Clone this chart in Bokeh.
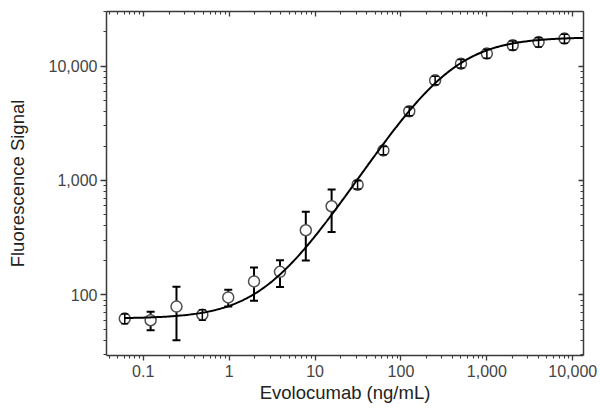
import numpy as np
from bokeh.plotting import figure
from bokeh.models import (ColumnDataSource, Whisker, TeeHead, LogAxis, FixedTicker,
                          CustomJSTickFormatter)
from bokeh.embed import file_html
from bokeh.resources import INLINE

# Evolocumab dilution series (ng/mL) and mean fluorescence signal with SD
concentration = [0.061, 0.122, 0.244, 0.488, 0.977, 1.95, 3.91, 7.81, 15.6,
                 31.3, 62.5, 125, 250, 500, 1000, 2000, 4000, 8000]
signal = [62, 60, 79, 67, 95, 131, 159, 367, 595,
          918, 1830, 4030, 7500, 10500, 12850, 15200, 16200, 17400]
sd = [6, 11, 39, 7, 16, 42, 42, 167, 240,
      75, 150, 350, 650, 900, 1150, 1400, 1500, 1600]

# four-parameter logistic fit of the dose-response
fit_bottom = 62.0
fit_top = 17900.0
fit_ec50 = 362.0
fit_hill = 1.17
fit_x_min, fit_x_max = 0.061, 13330.0

x_ticks = [0.1, 1, 10, 100, 1000, 10000]
y_ticks = [100, 1000, 10000]

x_range = (0.0374, 13330)
y_range = (29.5, 30000)

FONT = "Liberation Sans"
AXIS_COLOR = "#3a3a3a"
LABEL_COLOR = "#444444"
TITLE_COLOR = "#222222"


def minor_ticks(lo_exp, hi_exp):
    return [k * 10.0 ** e for e in range(lo_exp, hi_exp + 1) for k in range(2, 10)]


x_minor = minor_ticks(-2, 4)
y_minor = minor_ticks(1, 4)

fx = np.logspace(np.log10(fit_x_min), np.log10(fit_x_max), 400)
fy = fit_bottom + (fit_top - fit_bottom) / (1.0 + (fit_ec50 / fx) ** fit_hill)


def bar_source(keep):
    idx = [i for i in range(len(signal)) if keep(sd[i] / signal[i])]
    return ColumnDataSource(dict(
        x=[concentration[i] for i in idx],
        y=[signal[i] for i in idx],
        lo=[signal[i] - sd[i] for i in idx],
        hi=[signal[i] + sd[i] for i in idx],
    ))


src = bar_source(lambda r: True)
# wide bars run behind the symbol; narrow ones fit inside it and stay visible
wide = bar_source(lambda r: r >= 0.12)
narrow = bar_source(lambda r: r < 0.12)

p = figure(width=600, height=414, x_axis_type="log", y_axis_type="log",
           x_range=x_range, y_range=y_range,
           output_backend="svg", toolbar_location=None,
           min_border_left=106, min_border_right=17,
           min_border_top=11, min_border_bottom=59)
p.xgrid.visible = False
p.ygrid.visible = False
p.outline_line_color = None
p.background_fill_color = "white"
p.border_fill_color = "white"

xt = FixedTicker(ticks=x_ticks, minor_ticks=x_minor)
yt = FixedTicker(ticks=y_ticks, minor_ticks=y_minor)

for ax, tk in ((p.xaxis[0], xt), (p.yaxis[0], yt)):
    ax.ticker = tk
    ax.formatter = CustomJSTickFormatter(code="return tick.toLocaleString('en-US');")
    ax.axis_line_color = AXIS_COLOR
    ax.axis_line_width = 1.5
    ax.major_tick_line_color = AXIS_COLOR
    ax.major_tick_line_width = 1.3
    ax.minor_tick_line_color = AXIS_COLOR
    ax.minor_tick_line_width = 1.1
    ax.major_tick_in = 0
    ax.major_tick_out = 6
    ax.minor_tick_in = 0
    ax.minor_tick_out = 3
    ax.major_label_text_font = FONT
    ax.major_label_text_font_size = "16px"
    ax.major_label_text_color = LABEL_COLOR
    ax.axis_label_text_font = FONT
    ax.axis_label_text_font_size = "18.5px"
    ax.axis_label_text_font_style = "normal"
    ax.axis_label_text_color = TITLE_COLOR

p.xaxis[0].axis_label = "Evolocumab (ng/mL)"
p.yaxis[0].axis_label = "Fluorescence Signal"
p.xaxis[0].major_tick_out = 5
p.xaxis[0].major_label_standoff = 4
p.xaxis[0].axis_label_standoff = 2
p.yaxis[0].major_label_standoff = 3
p.yaxis[0].axis_label_standoff = 18

# mirrored frame axes with inward ticks and hidden labels
for place, tk in (("above", xt), ("right", yt)):
    ax = LogAxis(ticker=tk,
                 major_label_text_font_size="1px",
                 major_label_text_color=None,
                 major_label_standoff=0,
                 axis_line_color=AXIS_COLOR, axis_line_width=1.5,
                 major_tick_line_color=AXIS_COLOR, major_tick_line_width=1.3,
                 minor_tick_line_color=AXIS_COLOR, minor_tick_line_width=1.1,
                 major_tick_in=5, major_tick_out=0,
                 minor_tick_in=3, minor_tick_out=0)
    p.add_layout(ax, place)

# stems of the wide bars go behind the open symbols
p.add_layout(Whisker(source=wide, base="x", lower="lo", upper="hi", dimension="height",
                     line_color="black", line_width=2, level="underlay",
                     lower_head=None, upper_head=None))

p.scatter("x", "y", source=src, marker="circle", size=11,
          fill_color="white", line_color="#505050", line_width=1.5)

p.line(fx, fy, line_color="black", line_width=2)

p.add_layout(Whisker(source=narrow, base="x", lower="lo", upper="hi", dimension="height",
                     line_color="black", line_width=1.5, level="annotation",
                     lower_head=TeeHead(size=7, line_color="black", line_width=1.5),
                     upper_head=TeeHead(size=7, line_color="black", line_width=1.5)))

p.add_layout(Whisker(source=wide, base="x", lower="lo", upper="hi", dimension="height",
                     line_alpha=0, level="annotation",
                     lower_head=TeeHead(size=8, line_color="black", line_width=2),
                     upper_head=TeeHead(size=8, line_color="black", line_width=2)))

open("out.html", "w").write(file_html(p, INLINE))
